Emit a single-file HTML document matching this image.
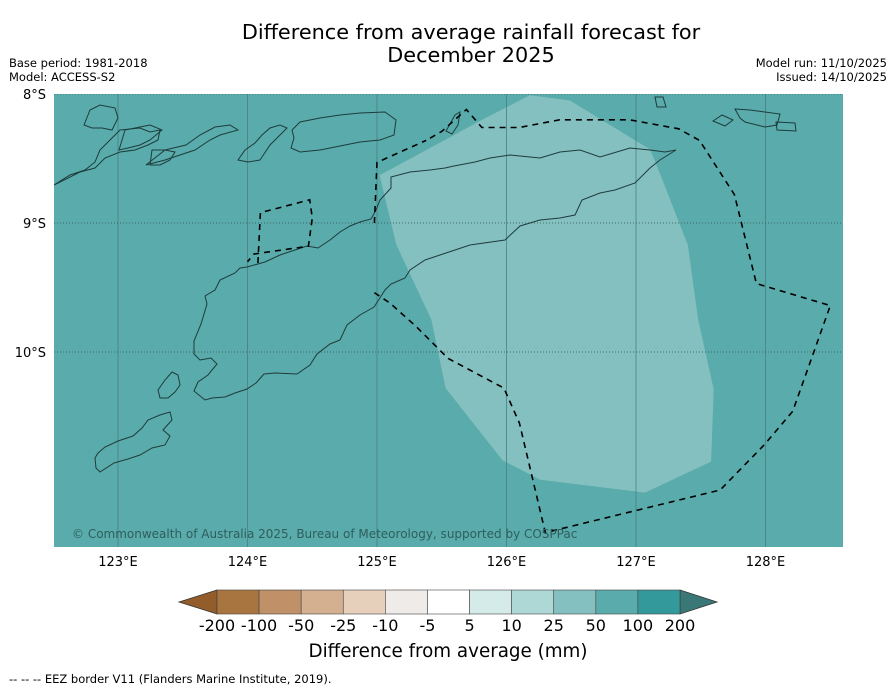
<!DOCTYPE html>
<html><head><meta charset="utf-8"><style>
body{margin:0;background:#fff;width:896px;height:690px;overflow:hidden;font-family:"DejaVu Sans","Liberation Sans",sans-serif;}
svg text{font-family:"DejaVu Sans","Liberation Sans",sans-serif;}
</style></head><body>
<svg id="chart" width="896" height="690" viewBox="0 0 896 690" xmlns="http://www.w3.org/2000/svg">
<text x="471" y="39" font-size="20.8" text-anchor="middle" fill="#000">Difference from average rainfall forecast for</text>
<text x="471" y="62" font-size="20.8" text-anchor="middle" fill="#000">December 2025</text>
<text x="9" y="67" font-size="11.5">Base period: 1981-2018</text>
<text x="9" y="81" font-size="11.5">Model: ACCESS-S2</text>
<text x="887" y="67" font-size="11.5" text-anchor="end">Model run: 11/10/2025</text>
<text x="887" y="81" font-size="11.5" text-anchor="end">Issued: 14/10/2025</text>
<defs><clipPath id="mapclip"><rect x="54" y="94" width="789" height="453"/></clipPath></defs>
<g id="map" clip-path="url(#mapclip)">
<rect x="54" y="94" width="789" height="453" fill="#5aabab"/>
<polygon id="anomaly" fill="#84c0bf"/>
<g id="grid"></g>
<g fill="none" stroke="#1e3c3c" stroke-width="1">
<path d="M194,354 L194,341 L201,324 L207,304 L205,296 L215,290 L220,280 L235,273 L240,268 L247,267 L265,262 L280,255 L295,250 L307,246 L318,248 L330,240 L340,232 L350,226 L360,222 L371,219 L376,210 L380,200 L391,188 L391,177 L410,172 L430,170 L445,168 L454,166 L475,162 L490,158 L510,155 L540,158 L560,152 L580,150 L600,157 L630,148 L650,150 L665,152 L676,150 L660,160 L650,168 L635,183 L615,190 L600,193 L582,200 L575,215 L560,218 L540,220 L520,226 L505,240 L470,245 L455,250 L440,255 L425,260 L410,270 L405,278 L391,284 L385,290 L374,307 L360,315 L347,325 L340,340 L330,344 L317,354 L310,365 L297,374 L275,373 L264,374 L256,383 L247,389 L235,393 L225,397 L212,398 L205,400 L194,391 L198,382 L208,375 L217,364 L211,358 L200,360 Z"/>
<path d="M98,453 L105,447 L118,441 L133,436 L142,428 L148,420 L160,415 L170,412 L172,420 L163,430 L170,436 L165,445 L152,448 L140,455 L128,459 L114,463 L100,472 L96,468 L95,458 Z"/>
<path d="M158,390 L165,380 L172,372 L178,375 L180,385 L175,392 L168,398 L160,398 Z"/>
<path d="M54,185 L70,175 L85,170 L95,162 L100,150 L110,140 L120,130 L140,128 L150,132 L160,130 L158,140 L148,145 L135,150 L120,152 L105,158 L95,168 L80,172 Z"/>
<path d="M84,125 L90,110 L100,105 L115,108 L118,118 L112,130 L102,128 L92,128 Z"/>
<path d="M119,150 L125,130 L150,125 L162,130 L150,140 L140,145 L128,148 Z M150,165 L152,150 L165,150 L175,152 L170,160 L160,165 Z"/>
<path d="M146,165 L165,150 L186,145 L200,135 L215,127 L230,125 L238,130 L220,135 L210,140 L195,150 L180,155 L165,160 Z"/>
<path d="M292,130 L300,122 L320,118 L340,115 L360,113 L385,112 L396,120 L394,135 L380,140 L360,142 L340,146 L320,150 L300,152 L291,148 L294,138 Z"/>
<path d="M260,160 L270,145 L280,135 L287,128 L280,125 L270,128 L262,135 L255,143 L245,150 L238,160 L248,162 Z"/>
<path d="M446,131 L455,115 L460,112 L458,125 L452,134 Z"/>
<path d="M655,97 L663,97 L666,107 L657,107 Z"/>
<path d="M713,121 L722,115 L733,120 L725,126 Z"/>
<path d="M735,109 L750,110 L780,114 L777,125 L765,127 L745,122 L740,118 Z"/>
<path d="M776,122 L795,123 L796,131 L777,130 Z"/>
</g>
<polyline id="eez" fill="none" stroke="#000" stroke-width="1.6" stroke-dasharray="6,5"/>
<polyline id="eez2" fill="none" stroke="#000" stroke-width="1.6" stroke-dasharray="6,5"/>
<polyline id="eez3" fill="none" stroke="#000" stroke-width="1.6" stroke-dasharray="6,5"/>
<text x="72" y="538" font-size="12" fill="#2f5e5e">© Commonwealth of Australia 2025, Bureau of Meteorology, supported by COSPPac</text>
</g>
<g id="axes"></g>
<g id="colorbar"></g>
<text x="448" y="657" font-size="18.3" text-anchor="middle">Difference from average (mm)</text>
<text x="9" y="683" font-size="11.5">--  --  -- EEZ border V11 (Flanders Marine Institute, 2019).</text>
</svg>
<script>
const lonTicks=[123,124,125,126,127,128];
const latTicks=[8,9,10];
const anomalyLon=[125.02,125.83,126.18,126.49,127.11,127.19,127.40,127.48,127.60,127.58,127.07,126.26,125.97,125.53,125.42,125.15];
const anomalyLat=[8.63,8.19,8.01,8.05,8.43,8.63,9.17,9.75,10.29,10.85,11.09,10.99,10.84,10.28,9.75,9.17];
const eezLon=[124.98,125.10,125.30,125.55,125.98,126.10,126.30,127.65,127.99,128.21,128.50,127.93,127.76,127.49,127.33,126.95,126.41,126.10,125.81,125.69,125.50,125.38];
const eezLat=[9.54,9.62,9.80,10.05,10.28,10.55,11.40,11.07,10.72,10.46,9.64,9.47,8.78,8.36,8.27,8.20,8.20,8.26,8.26,8.12,8.29,8.36];
const eez2Lon=[124.98,125.0,125.38];
const eez2Lat=[9.0,8.53,8.36];
const eez3Lon=[124.08,124.10,124.48,124.50,124.47,124.05,124.0];
const eez3Lat=[9.31,8.92,8.82,8.96,9.18,9.24,9.30];
const cbLevels=["-200","-100","-50","-25","-10","-5","5","10","25","50","100","200"];
const cbColors=["#a87440","#c09068","#d4b090","#e6d0bc","#efebe8","#ffffff","#d5ebe9","#aed8d5","#84c0bf","#5aabab","#34999a"];
const cbLowColor="#925d2a", cbHighColor="#3a7878";
const NS="http://www.w3.org/2000/svg";
const X=lon=>118+(lon-123)*129.5;
const Y=lat=>94+(lat-8)*129;
const pts=(a,b)=>a.map((v,i)=>X(v).toFixed(1)+","+Y(b[i]).toFixed(1)).join(" ");
document.getElementById('anomaly').setAttribute('points',pts(anomalyLon,anomalyLat));
document.getElementById('eez').setAttribute('points',pts(eezLon,eezLat));
document.getElementById('eez2').setAttribute('points',pts(eez2Lon,eez2Lat));
document.getElementById('eez3').setAttribute('points',pts(eez3Lon,eez3Lat));
function mk(tag,attrs,parent){const e=document.createElementNS(NS,tag);for(const k in attrs)e.setAttribute(k,attrs[k]);parent.appendChild(e);return e;}
const grid=document.getElementById('grid'), axes=document.getElementById('axes');
lonTicks.forEach(l=>{
 const ln=mk('line',{x1:X(l),x2:X(l),y1:94,y2:547,stroke:'#4a7f7f','stroke-width':0.8},grid);
 
 
 const t=mk('text',{x:X(l),y:566,'font-size':13,'text-anchor':'middle'},axes);
 t.textContent=l+"°E";
 
 
});
latTicks.forEach(l=>{
 const ln=mk('line',{x1:54,x2:843,y1:Y(l),y2:Y(l),stroke:'#2f5050','stroke-width':0.8,'stroke-dasharray':'1,2'},grid);
 
 
 const t=mk('text',{x:46,y:Y(l)+5,'font-size':13,'text-anchor':'end'},axes);
 t.textContent=l+"°S";
 
 
});
const cb=document.getElementById('colorbar');
const cbX=217, cbW=463, cbY=590, cbH=24, bw=cbW/cbColors.length;
const lt=mk('polygon',{points:`${cbX},${cbY} 179,${cbY+cbH/2} ${cbX},${cbY+cbH}`,fill:cbLowColor,stroke:'#333','stroke-width':0.8},cb);


const ht=mk('polygon',{points:`${cbX+cbW},${cbY} 717,${cbY+cbH/2} ${cbX+cbW},${cbY+cbH}`,fill:cbHighColor,stroke:'#333','stroke-width':0.8},cb);


cbColors.forEach((c,i)=>{
 const r=mk('rect',{x:cbX+i*bw,y:cbY,width:bw,height:cbH,fill:c,stroke:'#444','stroke-width':0.6},cb);
 
 
});
cbLevels.forEach((lv,i)=>{
 const t=mk('text',{x:cbX+i*bw,y:631,'font-size':16,'text-anchor':'middle'},cb);
 t.textContent=lv;
 
 
});
</script>
</body></html>
